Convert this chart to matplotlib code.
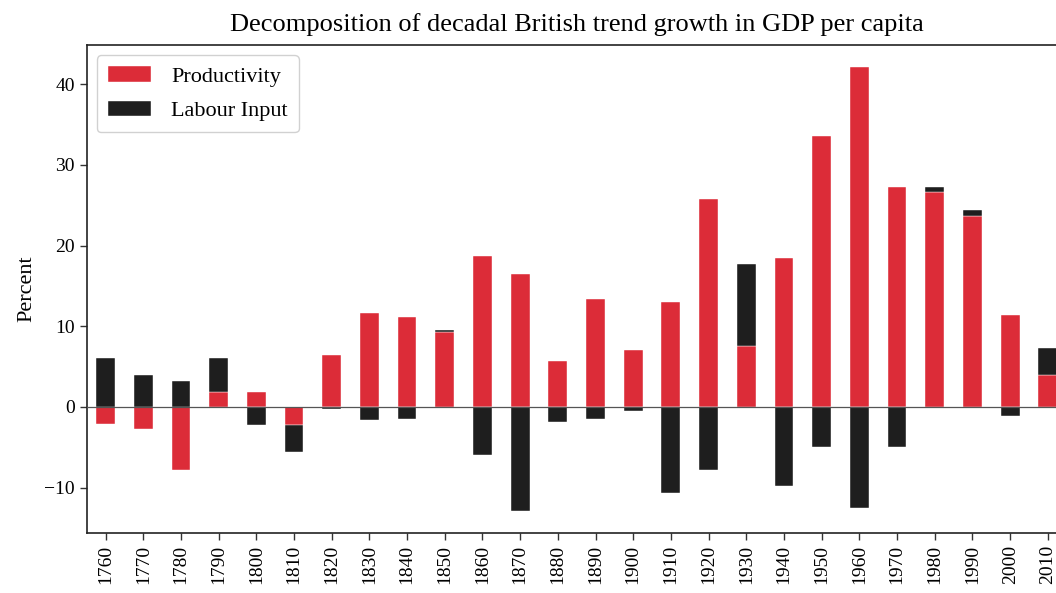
import numpy as np
import matplotlib
matplotlib.use("Agg")
import matplotlib.pyplot as plt

plt.rcParams['font.family'] = ['Liberation Serif', 'DejaVu Serif']

decades = [1760, 1770, 1780, 1790, 1800, 1810, 1820, 1830, 1840, 1850,
           1860, 1870, 1880, 1890, 1900, 1910, 1920, 1930, 1940, 1950,
           1960, 1970, 1980, 1990, 2000, 2010]
productivity = [-2.1, -2.7, -7.8, 1.9, 1.8, -2.3, 6.4, 11.6, 11.1, 9.3,
                18.7, 16.5, 5.7, 13.4, 7.1, 13.0, 25.8, 7.5, 18.4, 33.6,
                42.1, 27.2, 26.6, 23.6, 11.4, 4.0]
labour = [6.1, 4.0, 3.2, 4.1, -2.3, -3.3, -0.3, -1.6, -1.5, 0.2,
          -6.0, -12.9, -1.9, -1.5, -0.5, -10.7, -7.8, 10.2, -9.8, -5.0,
          -12.5, -5.0, 0.6, 0.8, -1.1, 3.3]

series = [("Productivity", productivity, "#dc2c38"),
          ("Labour Input", labour, "#1e1e1e")]

fig = plt.figure(figsize=(10.56, 5.93), dpi=100)
ax = fig.add_axes([0.0821, 0.101, 0.928, 0.823])

# stacked bars: positives stack upward from 0, negatives downward
x = np.arange(len(decades))
pos_base = np.zeros(len(decades))
neg_base = np.zeros(len(decades))
for name, vals, col in series:
    vals = np.array(vals)
    bottoms = np.where(vals >= 0, pos_base, neg_base)
    ax.bar(x, vals, 0.5, bottom=bottoms, color=col, label=name,
           edgecolor="white", linewidth=0.3)
    pos_base += np.clip(vals, 0, None)
    neg_base += np.clip(vals, None, 0)

ax.axhline(0, color="#555555", linewidth=0.9, zorder=3)

ax.set_xlim(-0.5, len(decades) - 0.5)
ax.margins(y=0.05)
ax.set_xticks(x)
ax.set_xticklabels([str(d) for d in decades], rotation=90, fontsize=14)
ax.set_yticks([-10, 0, 10, 20, 30, 40])
ax.tick_params(axis="y", labelsize=14)
ax.tick_params(length=5, width=1, color="#333333")
for s in ax.spines.values():
    s.set_color("#222222")
    s.set_linewidth(1.2)

ax.set_ylabel("Percent", fontsize=16, labelpad=6)
ax.set_title("Decomposition of decadal British trend growth in GDP per capita",
             fontsize=19, pad=10)
ax.legend(loc="upper left", fontsize=16, handlelength=1.95, handleheight=0.72,
          borderpad=0.5, labelspacing=0.62, handletextpad=0.9, framealpha=0.9,
          borderaxespad=0.45)

fig.savefig("out.png", dpi=100)
